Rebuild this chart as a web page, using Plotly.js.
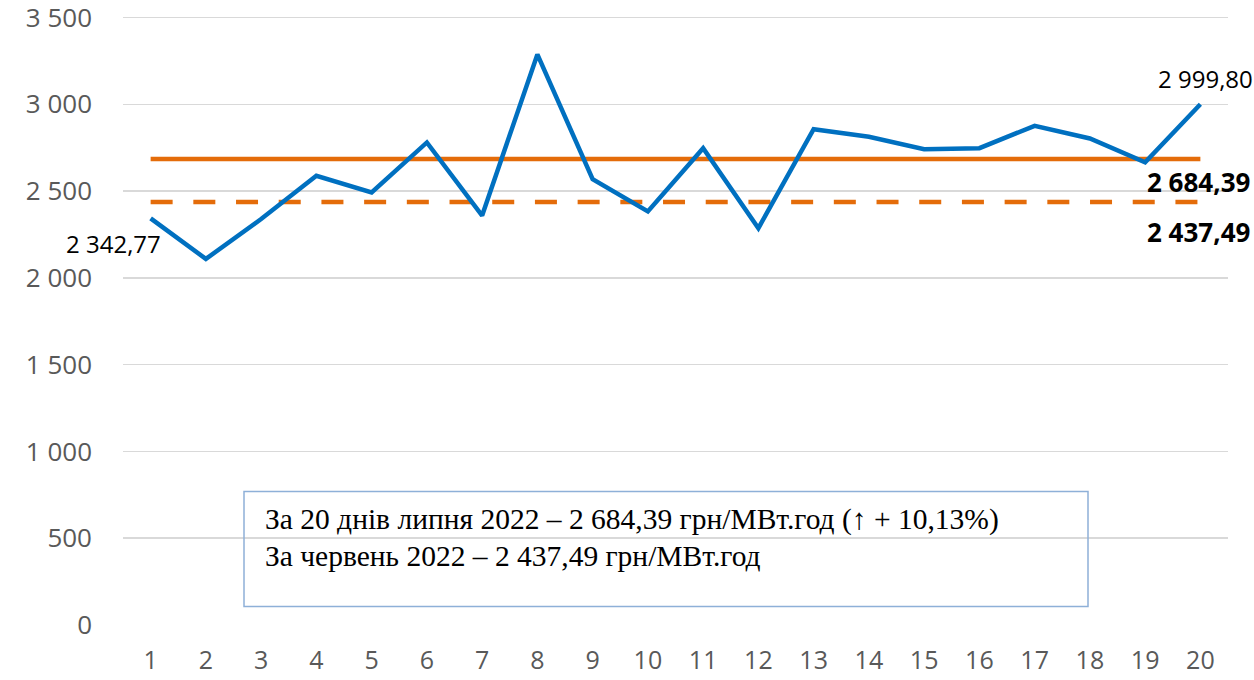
<!DOCTYPE html>
<html>
<head>
<meta charset="utf-8">
<script src="https://cdn.plot.ly/plotly-3.0.1.min.js"></script>
<style>html,body{margin:0;padding:0;background:#fff;}#chart{width:1254px;height:680px;}</style>
</head>
<body>
<div id="chart"></div>
<script>
// Days of July 2022
const days = [1,2,3,4,5,6,7,8,9,10,11,12,13,14,15,16,17,18,19,20];
// Daily price, грн/МВт.год
const dailyPrice = [2342.77,2109,2339,2588,2492,2780,2359,3287,2569,2383,2747,2286,2856,2813,2741,2747,2876,2803,2665,2999.80];
// Averages
const julyAvg = 2684.39;
const juneAvg = 2437.49;
// Y tick values
const yTicks = [0,500,1000,1500,2000,2500,3000,3500];
// Text box lines
const boxLines = [
  "За 20 днів липня 2022 – 2 684,39 грн/МВт.год (↑ + 10,13%)",
  "За червень 2022 – 2 437,49 грн/МВт.год"
];

function fmt(v){
  const p = v.toFixed(2).split('.');
  return p[0].replace(/\B(?=(\d{3})+(?!\d))/g,' ') + ',' + p[1];
}
function fmtInt(v){
  return String(v).replace(/\B(?=(\d{3})+(?!\d))/g,' ');
}

const blue = '#0070C0';
const orange = '#E46C0A';

const traces = [
  {x: days, y: days.map(()=>julyAvg), mode:'lines', line:{color:orange,width:4.5}, hoverinfo:'skip'},
  {x: days, y: days.map(()=>juneAvg), mode:'lines', line:{color:orange,width:4.5,dash:'22px,20.7px'}, hoverinfo:'skip'},
  {x: days, y: dailyPrice, mode:'lines', line:{color:blue,width:4.5}, hoverinfo:'skip'}
];

// plot area in pixels
const L = 123, R = 26, T = 14, B = 55, W = 1254, H = 680;
const pw = W - L - R, ph = H - T - B;
const px = x => (x - L) / pw;
const py = y => (H - B - y) / ph;

const lastI = days.length-1;
const annotations = [
  {x: days[0], y: dailyPrice[0], text: fmt(dailyPrice[0]), showarrow:false, xanchor:'right', yanchor:'middle', xshift:12, yshift:-25,
   font:{family:'Open Sans', size:24, color:'#000'}},
  {x: days[lastI], y: dailyPrice[lastI], text: fmt(dailyPrice[lastI]), showarrow:false, xanchor:'center', yanchor:'middle', xshift:5, yshift:26,
   font:{family:'Open Sans', size:24, color:'#000'}},
  {x: days[lastI], y: julyAvg, text: '<b>'+fmt(julyAvg)+'</b>', showarrow:false, xanchor:'right', yanchor:'middle', xshift:52, yshift:-23,
   font:{family:'Open Sans', size:26, color:'#000'}},
  {x: days[lastI], y: juneAvg, text: '<b>'+fmt(juneAvg)+'</b>', showarrow:false, xanchor:'right', yanchor:'middle', xshift:52, yshift:-30,
   font:{family:'Open Sans', size:26, color:'#000'}},
  {xref:'paper', yref:'paper', x:px(263), y:py(519), text: boxLines[0], showarrow:false, xanchor:'left', yanchor:'middle',
   font:{family:'Liberation Serif', size:29.5, color:'#000'}},
  {xref:'paper', yref:'paper', x:px(263), y:py(556), text: boxLines[1], showarrow:false, xanchor:'left', yanchor:'middle',
   font:{family:'Liberation Serif', size:29.5, color:'#000'}}
];

const shapes = [
  {type:'rect', xref:'paper', yref:'paper', x0:px(244), x1:px(1088), y0:py(606.5), y1:py(491.5),
   line:{color:'#8EB0D8', width:1.5}, fillcolor:'rgba(255,255,255,0)'}
];

const layout = {
  width:W, height:H,
  margin:{l:L, r:R, t:T, b:B, pad:0},
  paper_bgcolor:'#fff', plot_bgcolor:'#fff',
  showlegend:false,
  xaxis:{range:[0.5,20.5], tickvals:days, ticktext:days.map(String), showgrid:false, zeroline:false, showline:false,
    ticks:'', ticklabelstandoff:18, ticklabeloverflow:'allow', tickfont:{family:'Open Sans', size:25, color:'#595959'}},
  yaxis:{range:[0,3520], tickvals:yTicks, ticktext:yTicks.map(fmtInt), showgrid:true, gridcolor:'#D9D9D9', gridwidth:1.5,
    zeroline:false, showline:false, ticks:'', ticklabelstandoff:30, ticklabeloverflow:'allow', tickfont:{family:'Open Sans', size:26, color:'#595959'}},
  annotations: annotations,
  shapes: shapes
};

Plotly.newPlot('chart', traces, layout, {displayModeBar:false, staticPlot:true});
</script>
</body>
</html>
